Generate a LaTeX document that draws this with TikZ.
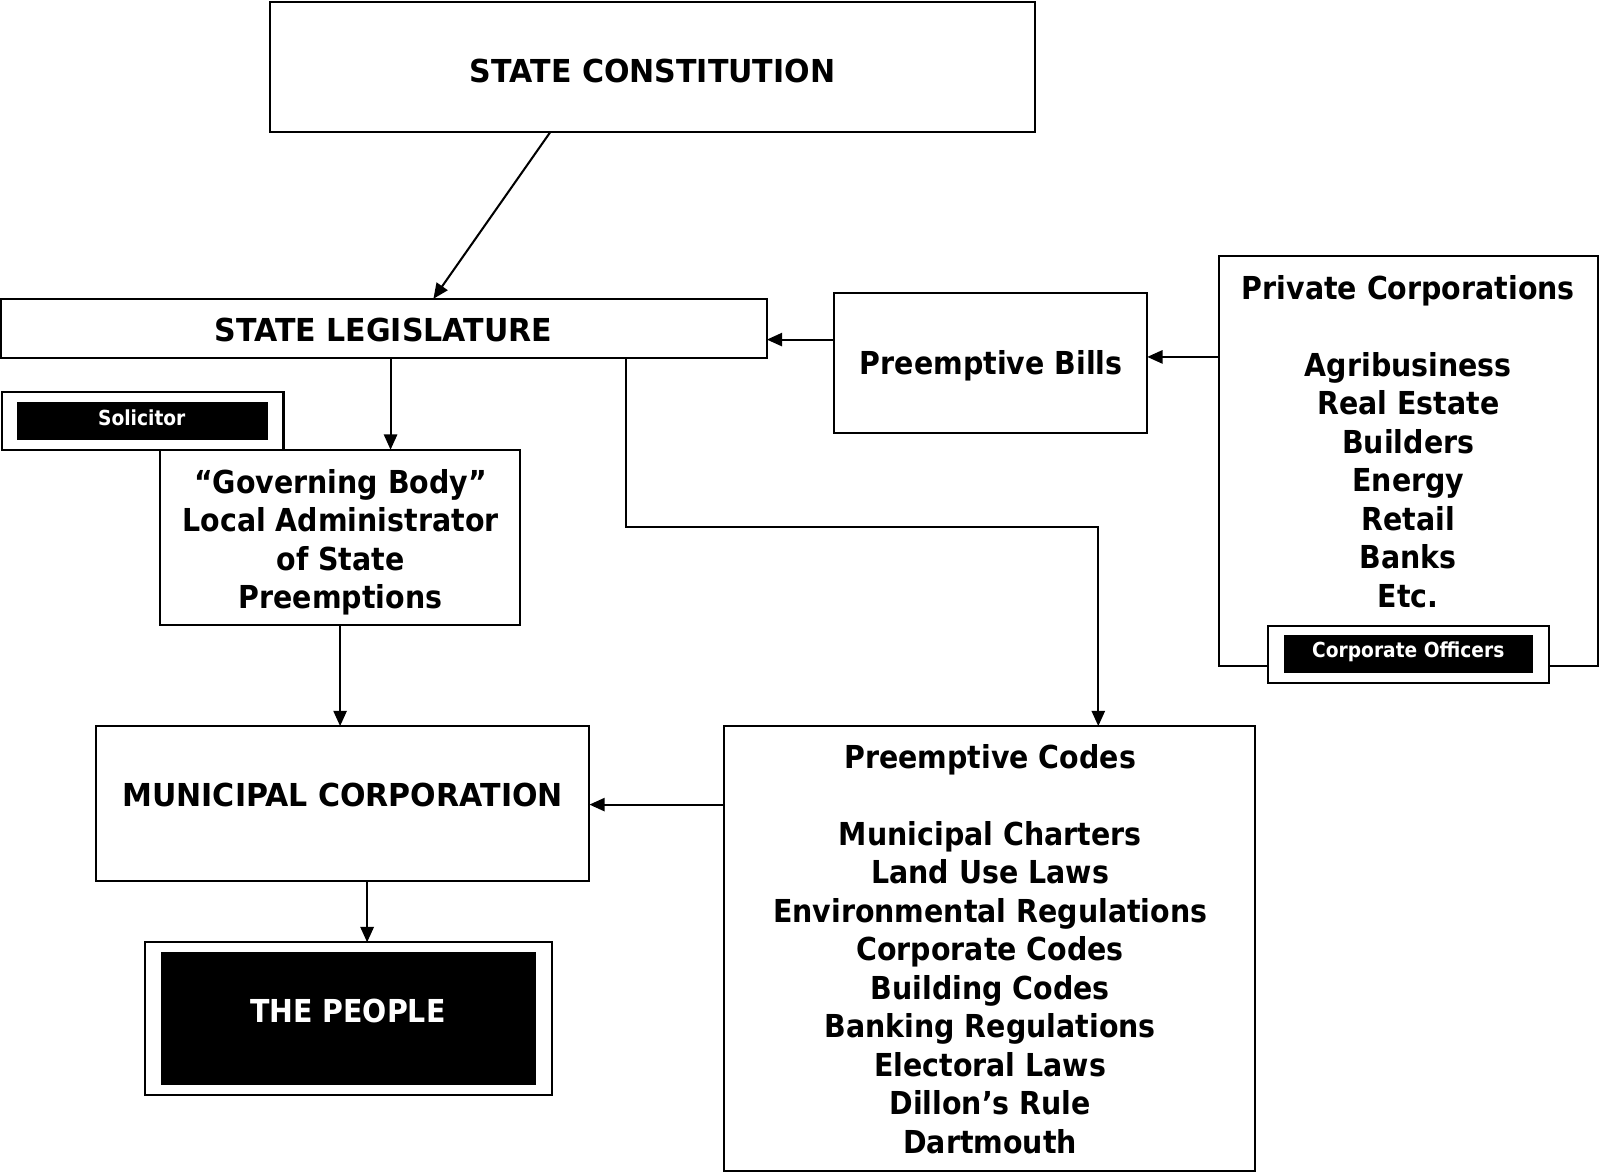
\documentclass[tikz,border=0pt]{standalone}
\usepackage{fontspec}
\setmainfont{DejaVu Sans}[FakeStretch=0.9]
\newfontfamily\capsfont{DejaVu Sans}[FakeStretch=0.95]
\usetikzlibrary{arrows.meta}
\begin{document}
\begin{tikzpicture}[x=1pt,y=-1pt,
  box/.style={draw=black,line width=2pt,fill=white,inner sep=0pt,outer sep=0pt,anchor=north west},
  blk/.style={fill=black,draw=black,line width=0.5pt,inner sep=0pt,outer sep=0pt,anchor=north west},
  big/.style={font=\fontsize{31}{37.75}\selectfont\bfseries,align=center,inner sep=0pt,outer sep=0pt},
  caps/.style={font=\fontsize{31}{37.75}\selectfont\capsfont\bfseries,inner sep=0pt,outer sep=0pt},
  small/.style={font=\fontsize{20.3}{24}\selectfont\bfseries,text=white,inner sep=0pt,outer sep=0pt},
  arr/.style={line width=2pt,-{Triangle[length=15pt,width=13pt]}}]
\useasboundingbox (0,0) rectangle (1568,1150);

% boxes
\node[box,minimum width=750pt,minimum height=127pt] (const) at (265,2) {};
\node[box,minimum width=751pt,minimum height=58pt] (legis) at (1,293) {};
\node[box,minimum width=307pt,minimum height=138pt] (bills) at (818,287) {};
\node[box,minimum width=372pt,minimum height=402pt] (priv) at (1195,251) {};
\node[box,minimum width=276pt,minimum height=56pt] (offout) at (1243,614) {};
\node[blk,minimum width=244pt,minimum height=36pt] (offin) at (1259,623) {};
\node[box,minimum width=276pt,minimum height=57pt] (solout) at (2,384) {};
\node[blk,minimum width=245pt,minimum height=37pt] (solin) at (17,394) {};
\node[box,minimum width=353pt,minimum height=172pt] (gov) at (157,441) {};
\node[box,minimum width=484pt,minimum height=152pt] (muni) at (94,712) {};
\node[box,minimum width=521pt,minimum height=436pt] (codes) at (710,712) {};
\node[box,minimum width=399pt,minimum height=150pt] (pplout) at (142,924) {};
\node[blk,minimum width=367pt,minimum height=129pt] (pplin) at (158,934) {};

% texts
\node[caps,anchor=base] (tconst) at (640,81) {STATE CONSTITUTION};
\node[caps,anchor=base] (tlegis) at (376,335) {STATE LEGISLATURE};
\node[big,anchor=base] (tbills) at (972,367) {Preemptive Bills};
\node[big,anchor=north] (tpriv) at (1381,270) {Private Corporations\\[37.75pt]Agribusiness\\Real Estate\\Builders\\Energy\\Retail\\Banks\\Etc.};
\node[small,anchor=base] (toff) at (1381,645) {Corporate Officers};
\node[small,anchor=base] (tsol) at (139,417) {Solicitor};
\node[big,anchor=north] (tgov) at (334,460) {“Governing Body”\\Local Administrator\\of State\\Preemptions};
\node[caps,anchor=base] (tmuni) at (336,791) {MUNICIPAL CORPORATION};
\node[big,anchor=north] (tcodes) at (971,730) {Preemptive Codes\\[37.75pt]Municipal Charters\\Land Use Laws\\Environmental Regulations\\Corporate Codes\\Building Codes\\Banking Regulations\\Electoral Laws\\Dillon’s Rule\\Dartmouth};
\node[big,anchor=base,text=white] (tppl) at (341,1003) {THE PEOPLE};

% connectors
\draw[arr] ([xshift=275pt]const.south west) -- ([xshift=424pt]legis.north west);
\draw[arr] ([xshift=382pt]legis.south west) -- ([xshift=226pt]gov.north west);
\draw[arr] ([xshift=613pt]legis.south west) |- ([xshift=367pt,yshift=195pt]codes.north west) -- ([xshift=367pt]codes.north west);
\coordinate (b1) at ([yshift=-46pt]bills.north west);
\draw[arr] (b1) -- (b1 -| legis.east);
\coordinate (p1) at ([yshift=-99pt]priv.north west);
\draw[arr] (p1) -- (p1 -| bills.east);
\coordinate (c1) at ([yshift=-77pt]codes.north west);
\draw[arr] (c1) -- (c1 -| muni.east);
\draw[arr] (gov.south) -- (gov.south |- muni.north);
\coordinate (m1) at ([xshift=266pt]muni.south west);
\draw[arr] (m1) -- (m1 |- pplout.north);
\end{tikzpicture}
\end{document}
